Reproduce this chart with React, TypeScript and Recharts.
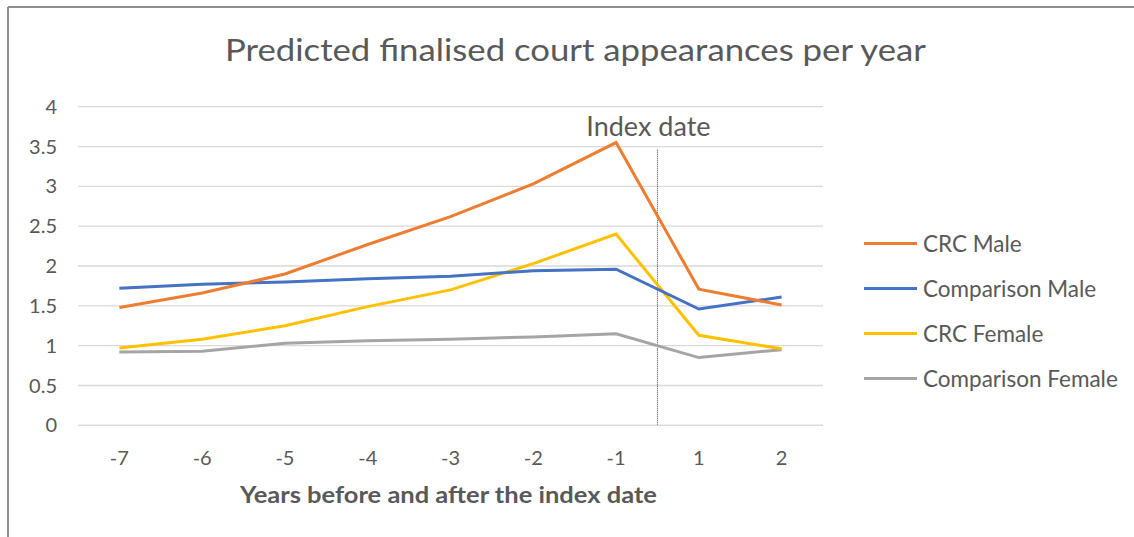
import React from 'react';
import { LineChart, Line, XAxis, YAxis, CartesianGrid, ReferenceLine, Legend } from 'recharts';

const categories = ['-7', '-6', '-5', '-4', '-3', '-2', '-1', '1', '2'];
const crcMale = [1.48, 1.66, 1.9, 2.27, 2.62, 3.03, 3.55, 1.71, 1.51];
const comparisonMale = [1.72, 1.77, 1.8, 1.84, 1.87, 1.94, 1.96, 1.46, 1.61];
const crcFemale = [0.97, 1.08, 1.25, 1.49, 1.7, 2.03, 2.4, 1.13, 0.96];
const comparisonFemale = [0.92, 0.93, 1.03, 1.06, 1.08, 1.11, 1.15, 0.85, 0.95];
const yTicks = [0, 0.5, 1, 1.5, 2, 2.5, 3, 3.5, 4];

const series = [
  { key: 'crcMale', name: 'CRC Male', color: '#ED7D31', values: crcMale },
  { key: 'comparisonMale', name: 'Comparison Male', color: '#4472C4', values: comparisonMale },
  { key: 'crcFemale', name: 'CRC Female', color: '#FFC000', values: crcFemale },
  { key: 'comparisonFemale', name: 'Comparison Female', color: '#A5A5A5', values: comparisonFemale },
];

const drawOrder = ['comparisonFemale', 'crcFemale', 'comparisonMale', 'crcMale'];

const data = categories.map((c, i) => {
  const row: Record<string, number | string> = { idx: i, label: c };
  series.forEach((s) => {
    row[s.key] = s.values[i];
  });
  return row;
});

const TEXT = '#595959';
const FONT = 'Lato, "Open Sans", sans-serif';

const LegendContent = () => (
  <div style={{ fontFamily: FONT }}>
    {series.map((s) => (
      <div key={s.key} style={{ height: 45, display: 'flex', alignItems: 'center' }}>
        <div style={{ width: 53, height: 3, background: s.color, marginRight: 6 }} />
        <span style={{ fontSize: 22.5, color: TEXT, whiteSpace: 'nowrap' }}>{s.name}</span>
      </div>
    ))}
  </div>
);

export default function App() {
  return (
    <div style={{ position: 'absolute', left: 0, top: 0, width: 1134, height: 537, background: '#fff', fontFamily: FONT }}>
      <LineChart
        width={1134}
        height={537}
        data={data}
        margin={{ top: 106.7, right: 311, bottom: 81.7, left: 0 }}
      >
        <CartesianGrid horizontal vertical={false} stroke="#D9D9D9" strokeWidth={1.3} />
        <XAxis
          dataKey="idx"
          type="number"
          domain={[-0.5, 8.5]}
          ticks={categories.map((_, i) => i)}
          tickFormatter={(v: number) => categories[v]}
          interval={0}
          height={30}
          axisLine={{ stroke: '#D9D9D9', strokeWidth: 1.3 }}
          tickLine={false}
          tickMargin={19}
          tick={{ fill: TEXT, fontSize: 20, fontFamily: FONT }}
        />
        <YAxis
          width={78}
          domain={[0, 4]}
          ticks={yTicks}
          axisLine={false}
          tickLine={false}
          tickMargin={15}
          tick={{ fill: TEXT, fontSize: 20, fontFamily: FONT }}
        />
        <ReferenceLine
          segment={[{ x: 6.5, y: 0 }, { x: 6.5, y: 3.47 }]}
          stroke="#404040"
          strokeWidth={1}
          strokeDasharray="1 1"
          label={{ value: 'Index date', position: 'top', offset: 13, dx: -9, fill: TEXT, fontSize: 27, fontFamily: FONT }}
        />
        {drawOrder.map((k) => {
          const s = series.find((x) => x.key === k)!;
          return (
            <Line
              key={s.key}
              type="linear"
              dataKey={s.key}
              name={s.name}
              stroke={s.color}
              strokeWidth={3}
              dot={false}
              activeDot={false}
              isAnimationActive={false}
            />
          );
        })}
        <Legend
          layout="vertical"
          align="center"
          verticalAlign="middle"
          content={() => <LegendContent />}
          wrapperStyle={{ left: 864, top: 220.8, width: 270 }}
        />
      </LineChart>
      <svg width={1134} height={537} style={{ position: 'absolute', left: 0, top: 0, pointerEvents: 'none' }}>
        <line x1={8} y1={7} x2={1134} y2={7} stroke="#8f8f8f" strokeWidth={2} />
        <line x1={8} y1={7} x2={8} y2={537} stroke="#8f8f8f" strokeWidth={2} />
        <text x={225} y={60.7} fill={TEXT} fontSize={30} fontFamily={FONT} textLength={701} lengthAdjust="spacingAndGlyphs">
          Predicted finalised court appearances per year
        </text>
        <text x={240} y={503} fill={TEXT} fontSize={22} fontWeight="bold" fontFamily={FONT} textLength={417} lengthAdjust="spacingAndGlyphs">
          Years before and after the index date
        </text>
      </svg>
    </div>
  );
}
